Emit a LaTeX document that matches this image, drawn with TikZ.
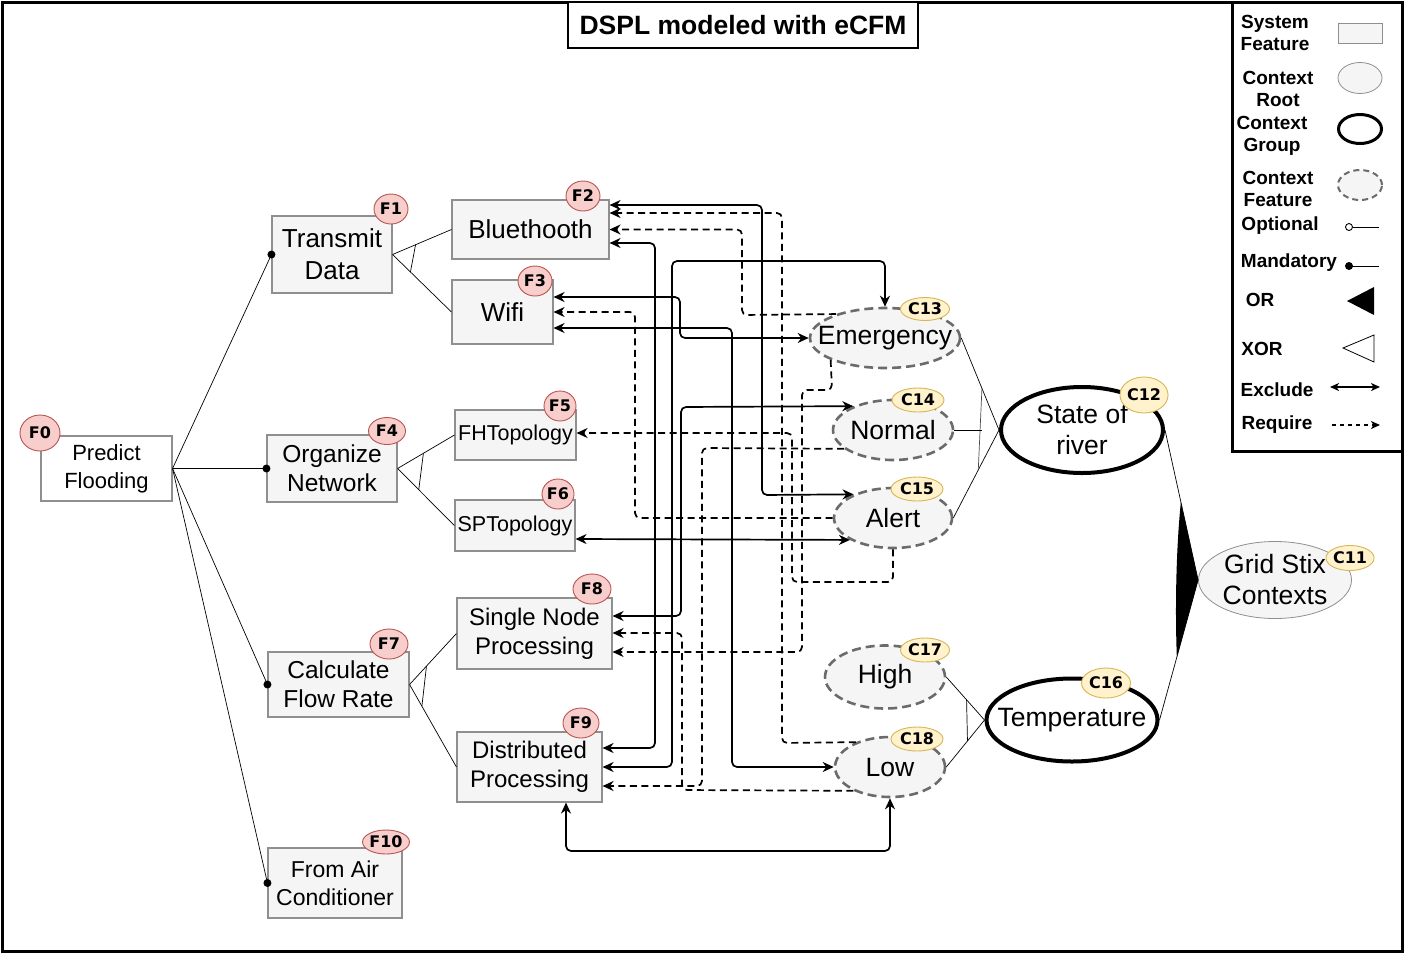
\documentclass[tikz,border=0pt]{standalone}
\usepackage{fontspec}
\setmainfont{Liberation Sans}
\newfontfamily\badgefont{DejaVu Sans}
\usetikzlibrary{arrows.meta,shapes.geometric,calc}
\definecolor{featfill}{HTML}{F5F5F5}
\definecolor{featdraw}{HTML}{8F8F8F}
\definecolor{ctxdraw}{HTML}{6B6B6B}
\definecolor{fbfill}{HTML}{F8CECC}
\definecolor{fbdraw}{HTML}{B85450}
\definecolor{cbfill}{HTML}{FFF2CC}
\definecolor{cbdraw}{HTML}{D6B656}
\begin{document}
\begin{tikzpicture}[x=1pt,y=-1pt,
  >={Stealth[length=11pt,width=10pt,inset=3.5pt]},
  feat/.style={rectangle, draw=featdraw, fill=featfill, line width=1.1pt, align=center, inner sep=0pt},
  ctx/.style={ellipse, draw=ctxdraw, fill=featfill, line width=2.6pt, dash pattern=on 9pt off 5pt, inner sep=0pt},
  grp/.style={ellipse, draw=black, fill=white, line width=4pt, inner sep=0pt},
  rootc/.style={ellipse, draw=featdraw, fill=featfill, line width=0.8pt, inner sep=0pt},
  ctxtxt/.style={font=\fontsize{26.5}{31}\selectfont, align=center, inner sep=0pt},
  fb/.style={ellipse, fill=fbfill, draw=fbdraw, line width=0.9pt, inner sep=0pt, font=\badgefont\bfseries\fontsize{16}{16}\selectfont},
  cb/.style={ellipse, fill=cbfill, draw=cbdraw, line width=0.9pt, inner sep=0pt, font=\badgefont\bfseries\fontsize{16}{16}\selectfont},
  exc/.style={line width=1.7pt, rounded corners=5pt, <->},
  req/.style={line width=1.7pt, rounded corners=5pt, dash pattern=on 7pt off 4.5pt, ->},
  tline/.style={line width=0.7pt, draw=black},
  xorline/.style={line width=0.7pt, draw=black},
  lgtxt/.style={font=\bfseries\fontsize{19}{22}\selectfont, align=center, inner sep=0pt},
  fs26/.style={font=\fontsize{26}{32}\selectfont},
  fs24/.style={font=\fontsize{24.5}{29}\selectfont},
  fs22/.style={font=\fontsize{22}{28}\selectfont},
  fs21/.style={font=\fontsize{21.5}{26}\selectfont},
]
\useasboundingbox (0,0) rectangle (1405,954);
% outer frame
\draw[line width=3pt] (2,2) rectangle (1402,951);

% ---------------- feature nodes
\node[feat, fill=white, minimum width=131pt, minimum height=65pt, fs22] (PF) at (106.5,468.5) {Predict\\Flooding};
\node[feat, minimum width=120pt, minimum height=77pt, fs26] (TD) at (332,254.5) {Transmit\\Data};
\node[feat, minimum width=157pt, minimum height=59pt, fs26] (BT) at (530.5,229.5) {Bluethooth};
\node[feat, minimum width=101pt, minimum height=64pt, fs26] (WF) at (502.5,312) {Wifi};
\node[feat, minimum width=130pt, minimum height=67pt, fs24] (ON) at (332,468.5) {Organize\\Network};
\node[feat, minimum width=121pt, minimum height=50pt, fs21] (FH) at (515.5,435) {FHTopology};
\node[feat, minimum width=120pt, minimum height=51pt, fs21] (SP) at (515,525.5) {SPTopology};
\node[feat, minimum width=141pt, minimum height=65pt, fs24] (CF) at (338.5,684.5) {Calculate\\Flow Rate};
\node[feat, minimum width=155pt, minimum height=71pt, font=\fontsize{24}{29}\selectfont] (SNP) at (534.5,633.5) {Single Node\\Processing};
\node[feat, minimum width=145pt, minimum height=70pt, font=\fontsize{24}{29}\selectfont] (DP) at (529.5,767) {Distributed\\Processing};
\node[feat, minimum width=134pt, minimum height=70pt, font=\fontsize{23}{28}\selectfont] (FA) at (335,883) {From Air\\Conditioner};

% ---------------- context nodes
\node[ctx, minimum width=150pt, minimum height=60pt, label={[ctxtxt]center:Emergency}] (EM) at (885,338) {};
\node[ctx, minimum width=120pt, minimum height=60pt, label={[ctxtxt]center:Normal}] (NO) at (893,430) {};
\node[ctx, minimum width=118pt, minimum height=60pt, label={[ctxtxt]center:Alert}] (AL) at (893,518) {};
\node[ctx, minimum width=120pt, minimum height=63pt, label={[ctxtxt]center:High}] (HI) at (885,677) {};
\node[ctx, minimum width=110pt, minimum height=60pt, label={[ctxtxt]center:Low}] (LO) at (890,767) {};
\node[grp, minimum width=162pt, minimum height=86pt, label={[ctxtxt]center:State of\\river}] (SR) at (1082,430) {};
\node[grp, minimum width=171pt, minimum height=83pt, label={[ctxtxt]center:Temperature}] (TE) at (1072,720) {};
\node[rootc, minimum width=153pt, minimum height=77pt, label={[ctxtxt]center:Grid Stix\\Contexts}] (GS) at (1275,580) {};

% ---------------- tree (mandatory)
\foreach \c in {TD,ON,CF,FA}{
  \draw[tline] (PF.east) -- (\c.west);
  \fill (\c.west) circle (4pt);
}
% XOR groups of features
\draw[xorline] (TD.east) -- (BT.west) (TD.east) -- (WF.west);
\draw[xorline] ($(TD.east)!25pt!(BT.west)$) -- ($(TD.east)!25pt!(WF.west)$);
\draw[xorline] (ON.east) -- (FH.west) (ON.east) -- (SP.west);
\draw[xorline] ($(ON.east)!30pt!(FH.west)$) -- ($(ON.east)!30pt!(SP.west)$);
\draw[xorline] (CF.east) -- (SNP.west) (CF.east) -- (DP.west);
\draw[xorline] ($(CF.east)!25pt!(SNP.west)$) -- ($(CF.east)!25pt!(DP.west)$);

% XOR groups of contexts
\coordinate (srA) at ($(SR.west)!45pt!(EM.east)$);
\coordinate (srB) at ($(SR.west)!45pt!(AL.east)$);
\draw[xorline] (EM.east) -- (SR.west) -- (AL.east);
\draw[xorline, draw=black!70] (srA) -- (srB);
\draw[xorline] (NO.east) -- (NO.east -| srA);
\coordinate (teA) at ($(TE.west)!27pt!(HI.east)$);
\coordinate (teB) at ($(TE.west)!27pt!(LO.east)$);
\draw[xorline] (HI.east) -- (TE.west) -- (LO.east);
\draw[xorline] (teA) -- (teB);

% OR group
\coordinate (gsA) at ($(GS.west)!80pt!(SR.east)$);
\coordinate (gsB) at ($(GS.west)!80pt!(TE.east)$);
\draw[xorline] (SR.east) -- (GS.west) -- (TE.east);
\fill (GS.west) -- (gsA) .. controls (1176,550) and (1175,610) .. (gsB) -- cycle;

% ---------------- constraints
\draw[exc] (BT.east |- 0,205) -- (762,205) -- (762,495) -- (AL.149);
\draw[req] (LO.144) -- (782,743) -- (782,213) -- (BT.east |- 0,213);
\draw[req] (EM.154) -- (742,315) -- (742,229.5) -- (BT.east);
\draw[exc] (BT.east |- 0,243) -- (655,243) -- (655,748) -- (DP.east |- 0,748);
\draw[exc] (DP.east |- 0,767) -- (672,767) -- (672,261) -- (885,261) -- (EM.north);
\draw[exc] (WF.east |- 0,297) -- (680,297) -- (680,338) -- (EM.west);
\draw[req] (AL.west) -- (635,518) -- (635,312) -- (WF.east |- 0,312);
\draw[exc] (WF.east |- 0,328) -- (732,328) -- (732,767) -- (LO.west);
\draw[req] (EM.202) -- (832,390) -- (802,390) -- (802,652) -- (SNP.east |- 0,652);
\draw[req] (AL.south) -- (893,582) -- (792,582) -- (792,433) -- (FH.east |- 0,433);
\draw[req] (NO.201) -- (702,448) -- (702,786) -- (DP.east |- 0,786);
\draw[exc] (SNP.east |- 0,616) -- (681,616) -- (681,407) -- (NO.149);
\draw[exc] (SP.east |- 0,539) -- (AL.207);
\draw[req] (LO.213) -- (682,790) -- (682,633) -- (SNP.east |- 0,633);
\draw[exc] (DP.south -| 566,0) -- (566,851) -- (890,851) -- (LO.south);

% ---------------- badges
\node[fb, minimum width=40pt, minimum height=36pt] (bF0) at (40,433) {F0};
\node[fb, minimum width=34pt, minimum height=30pt] (bF1) at (391,209) {F1};
\node[fb, minimum width=34pt, minimum height=30pt] (bF2) at (583,196) {F2};
\node[fb, minimum width=34pt, minimum height=30pt] (bF3) at (535,281) {F3};
\node[fb, minimum width=37pt, minimum height=27pt] (bF4) at (387,431) {F4};
\node[fb, minimum width=32pt, minimum height=30pt] (bF5) at (560,406) {F5};
\node[fb, minimum width=32pt, minimum height=30pt] (bF6) at (558,494) {F6};
\node[fb, minimum width=38pt, minimum height=30pt] (bF7) at (389,644) {F7};
\node[fb, minimum width=38pt, minimum height=30pt] (bF8) at (592,589) {F8};
\node[fb, minimum width=36pt, minimum height=30pt] (bF9) at (581,723) {F9};
\node[fb, minimum width=46pt, minimum height=24pt] (bF10) at (386,842) {F10};
\node[cb, minimum width=49pt, minimum height=23pt] (bC13) at (925,309) {C13};
\node[cb, minimum width=52pt, minimum height=24pt] (bC14) at (918,400) {C14};
\node[cb, minimum width=52pt, minimum height=24pt] (bC15) at (917,489) {C15};
\node[cb, minimum width=49pt, minimum height=24pt] (bC17) at (925,650) {C17};
\node[cb, minimum width=52pt, minimum height=24pt] (bC18) at (917,739) {C18};
\node[cb, minimum width=44pt, minimum height=36pt] (bC12) at (1144,395) {C12};
\node[cb, minimum width=49pt, minimum height=30pt] (bC16) at (1106,683) {C16};
\node[cb, minimum width=43pt, minimum height=25pt] (bC11) at (1350,558) {C11};

% ---------------- title
\node[draw=black, line width=1.5pt, fill=white, minimum width=350pt, minimum height=46pt, inner sep=0pt,
      font=\bfseries\fontsize{26.5}{30}\selectfont] (title) at (743,25) {DSPL modeled with eCFM};

% ---------------- legend
\node[draw=black, line width=3pt, fill=white, minimum width=170pt, minimum height=449pt, inner sep=0pt] (legend) at (1317.5,226.5) {};
\node[lgtxt] (l1) at (1275,33) {System\\Feature};
\node[rectangle, draw=featdraw, fill=featfill, line width=0.8pt, minimum width=44pt, minimum height=20pt] (s1) at (1360,33) {};
\node[lgtxt] (l2) at (1278,89) {Context\\Root};
\node[rootc, minimum width=44pt, minimum height=31pt] (s2) at (1360,78) {};
\node[lgtxt] (l3) at (1272,136) {Context\\Group};
\node[ellipse, draw=black, line width=3pt, fill=white, minimum width=43pt, minimum height=29pt, inner sep=0pt] (s3) at (1360,129) {};
\node[lgtxt] (l4) at (1278,189) {Context\\Feature};
\node[ctx, line width=2pt, dash pattern=on 6pt off 4pt, minimum width=44pt, minimum height=30pt] (s4) at (1360,185) {};
\node[lgtxt] (l5) at (1280,226) {Optional};
\node[lgtxt] (l6) at (1289,263) {Mandatory};
\node[lgtxt] (l7) at (1260,300) {OR};
\node[lgtxt] (l8) at (1262,349) {XOR};
\node[lgtxt] (l9) at (1277,390) {Exclude};
\node[lgtxt] (l10) at (1277,425) {Require};
\coordinate (opA) at (1349,227); \coordinate (opB) at (1379,227);
\draw[line width=0.9pt] (opA) ++(3.5,0) -- (opB);
\draw[line width=0.9pt, fill=white] (opA) circle (3.5pt);
\coordinate (maA) at (1349,266); \coordinate (maB) at (1379,266);
\draw[line width=0.9pt] (maA) -- (maB);
\fill (maA) circle (4pt);
\fill (1347,301) -- (1374,287) -- (1374,315) -- cycle;
\draw[line width=0.8pt] (1343,348) -- (1374,335) -- (1374,362) -- cycle;
\coordinate (exA) at (1330,387); \coordinate (exB) at (1380,387);
\draw[line width=1.5pt, {Stealth[length=9pt,width=8pt,inset=2.5pt]}-{Stealth[length=9pt,width=8pt,inset=2.5pt]}] (exA) -- (exB);
\coordinate (rqA) at (1332,425); \coordinate (rqB) at (1380,425);
\draw[line width=1.5pt, dash pattern=on 4pt off 4pt, -{Stealth[length=9pt,width=8pt,inset=2.5pt]}] (rqA) -- (rqB);
\end{tikzpicture}
\end{document}
